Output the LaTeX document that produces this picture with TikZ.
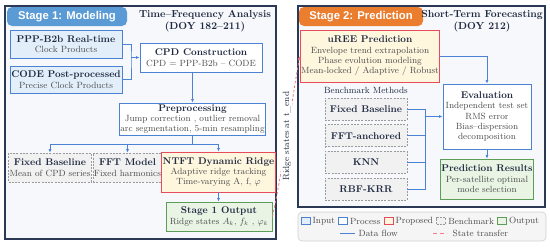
\documentclass[tikz,border=0pt]{standalone}
\usepackage{amsmath,amssymb}
\usepackage{fontspec}
\newfontfamily\headfont{Liberation Sans}
\usetikzlibrary{arrows.meta,positioning,calc}

\definecolor{panelnavy}{HTML}{2B3856}
\definecolor{panelfill}{HTML}{F6F8FC}
\definecolor{headblue}{HTML}{5B9BD5}
\definecolor{headorange}{HTML}{EB7D2F}
\definecolor{flowblue}{HTML}{4C82D4}
\definecolor{inputfill}{HTML}{E2EEFA}
\definecolor{propred}{HTML}{E84B5B}
\definecolor{propfill}{HTML}{FFF6DE}
\definecolor{benchgray}{HTML}{9A9A9A}
\definecolor{benchfill}{HTML}{F1F1F1}
\definecolor{outgreen}{HTML}{5C9E57}
\definecolor{outfill}{HTML}{E9F4E5}
\definecolor{transred}{HTML}{F07A85}
\definecolor{titlecol}{HTML}{1F2940}
\definecolor{bodycol}{HTML}{4D4D4D}
\definecolor{legendfill}{HTML}{F5F5F5}
\definecolor{legendgray}{HTML}{D0D0D0}

\newcommand{\bodyfont}{\fontsize{9}{10.4}\selectfont}
\newcommand{\boxtitle}[1]{{\fontsize{9.8}{11}\selectfont\bfseries\color{titlecol}#1}}

\begin{document}
\begin{tikzpicture}[
    x=1pt, y=-1pt,
    node distance=4pt,
    >={Latex[length=3.5pt,width=3pt]},
    basebox/.style={
        draw,
        line width=0.9pt,
        align=center,
        inner sep=1pt,
        font=\bodyfont,
        text=bodycol
    },
    % Color themes mapped to the legend
    inputbox/.style={basebox, fill=inputfill, draw=flowblue},
    procbox/.style={basebox, fill=white, draw=flowblue},
    propbox/.style={basebox, fill=propfill, draw=propred},
    benchbox/.style={basebox, fill=benchfill, draw=benchgray, line width=0.7pt, dash pattern=on 2pt off 1.3pt},
    outbox/.style={basebox, fill=outfill, draw=outgreen},
    panel/.style={draw=panelnavy, fill=panelfill, line width=1.2pt},
    header/.style={rounded corners=5pt, text=white, font=\headfont\bfseries\fontsize{11.3}{13}\selectfont, minimum height=19pt, inner sep=2pt},
    heading/.style={align=center, font=\bfseries\fontsize{10.2}{12}\selectfont, text=titlecol},
    flow/.style={->, draw=flowblue, line width=0.8pt},
    transfer/.style={->, draw=transred, line width=0.8pt, dash pattern=on 2.5pt off 2pt},
    legtext/.style={font=\fontsize{9}{10}\selectfont, text=bodycol, inner sep=0.5pt},
    swatch/.style={minimum width=9pt, minimum height=7pt, inner sep=0pt, line width=0.8pt}
]
\useasboundingbox (0,0) rectangle (550,247);

% Stage 1 panel
\node[panel, minimum width=271pt, minimum height=233pt] (panel1) at (140.5,122.5) {};
\node[header, fill=headblue, minimum width=120pt] (head1) at (67,16.5) {Stage 1: Modeling};
\node[heading] (title1) at (205,21) {Time--Frequency Analysis\\(DOY 182--211)};

\node[inputbox, minimum width=112pt, minimum height=28pt] (ppp) at (66,44) {\boxtitle{PPP-B2b Real-time}\\Clock Products};
\node[inputbox, minimum width=112pt, minimum height=27pt] (code) at (66,79.5) {\boxtitle{CODE Post-processed}\\Precise Clock Products};
\node[procbox, minimum width=122pt, minimum height=29pt] (cpd) at (201,57.5) {\boxtitle{CPD Construction}\\CPD = PPP-B2b -- CODE};
\node[procbox, minimum width=145pt, minimum height=32pt] (prep) at (192.5,119) {\boxtitle{Preprocessing}\\Jump correction , outlier removal\\arc segmentation, 5-min resampling};

\node[benchbox, minimum width=80pt, minimum height=29pt] (fixed1) at (50,167.5) {\boxtitle{Fixed Baseline}\\Mean of CPD series};
\node[benchbox, minimum width=69pt, minimum height=29pt] (fftm) at (127.5,167.5) {\boxtitle{FFT Model}\\Fixed harmonics};
\node[propbox, minimum width=107pt, minimum height=40pt] (ntft) at (218.5,172) {\boxtitle{NTFT Dynamic Ridge}\\Adaptive ridge tracking\\Time-varying A, f, $\varphi$};
\node[outbox, minimum width=106pt, minimum height=29pt] (out1) at (219,216.5) {\boxtitle{Stage 1 Output}\\Ridge states $A_k$, $f_k$ , $\varphi_k$};

% Stage 2 panel
\node[panel, minimum width=247pt, minimum height=201pt] (panel2) at (421.5,106.5) {};
\node[header, fill=headorange, minimum width=124pt] (head2) at (361,16.5) {Stage 2: Prediction};
\node[heading] (title2) at (482,21) {Short-Term Forecasting\\(DOY 212)};

\node[propbox, minimum width=136pt, minimum height=52pt] (uree) at (370,56) {\boxtitle{uREE Prediction}\\Envelope trend extrapolation\\Phase evolution modeling\\Mean-locked / Adaptive / Robust};
\node[font=\fontsize{9}{10}\selectfont, text=titlecol] (benchlbl) at (366,90) {Benchmark Methods};
\node[benchbox, minimum width=82pt, minimum height=22pt] (fixed2) at (366,109) {\boxtitle{Fixed Baseline}};
\node[benchbox, minimum width=82pt, minimum height=22pt, below=of fixed2] (ffta) {\boxtitle{FFT-anchored}};
\node[benchbox, minimum width=82pt, minimum height=22pt, below=of ffta] (knn) {\boxtitle{KNN}};
\node[benchbox, minimum width=82pt, minimum height=22pt, below=of knn] (rbf) {\boxtitle{RBF-KRR}};

\node[procbox, minimum width=88pt, minimum height=65pt] (eval) at (487,116.5) {\boxtitle{Evaluation}\\Independent test set\\RMS error\\Bias--dispersion\\decomposition};
\node[outbox, minimum width=88pt, minimum height=40pt] (res) at (487,179) {\boxtitle{Prediction Results}\\Per-satellite optimal\\mode selection};

% Connections
\coordinate (join) at (131,57.5);
\draw[flow,-] (ppp.east) -| (join) |- (code.east);
\draw[flow] (join) -- (cpd.west);
\draw[flow] (prep.north |- cpd.south) -- (prep.north);
\coordinate (split) at (192.5,144);
\draw[flow,-] (prep.south) -- (split);
\draw[flow] (split) -| (fixed1.north);
\draw[flow] (split) -| (fftm.north);
\draw[flow] (split) -| (ntft.north);
\draw[flow] (ntft.south) -- (ntft.south |- out1.north);

\draw[flow] (uree.east) -| (eval.north);
\coordinate (bus) at (425,116.5);
\foreach \b in {fixed2,ffta,knn,rbf}
    \draw[flow,-] (\b.east) -| (bus);
\draw[flow] (bus) -- (eval.west);
\draw[flow] (eval) -- (res);

\draw[transfer] (out1.east) .. controls +(10,-45) and +(-8,45) .. (uree.west)
    node[pos=0.5, rotate=90, fill=white, inner sep=1.5pt, font=\fontsize{9}{10}\selectfont, text=titlecol] (lbl) {Ridge states at t\_end};

% Legend
\node[draw=legendgray, fill=legendfill, rounded corners=4pt, minimum width=248pt, minimum height=29pt, line width=0.6pt] (legend) at (422,226.5) {};
\node[inputbox, swatch] (swin) at (305.5,221) {};
\node[legtext, right=1.5pt of swin] (lin) {Input};
\node[procbox, swatch, right=2.5pt of lin] (swproc) {};
\node[legtext, right=1.5pt of swproc] (lproc) {Process};
\node[propbox, swatch, right=2.5pt of lproc] (swprop) {};
\node[legtext, right=1.5pt of swprop] (lprop) {Proposed};
\node[benchbox, swatch, right=2.5pt of lprop] (swbench) {};
\node[legtext, right=1.5pt of swbench] (lbench) {Benchmark};
\node[outbox, swatch, right=2.5pt of lbench] (swout) {};
\node[legtext, right=1.5pt of swout] (lout) {Output};

\coordinate (dfa) at (340,233);
\coordinate (dfb) at (355,233);
\draw[flow,-] (dfa) -- (dfb);
\node[legtext, right=3pt of dfb] (ldf) {Data flow};
\coordinate (sta) at (433,233);
\coordinate (stb) at (447,233);
\draw[transfer,-, dash pattern=on 4pt off 3pt] (sta) -- (stb);
\node[legtext, right=5pt of stb] (lst) {State transfer};

\end{tikzpicture}
\end{document}
